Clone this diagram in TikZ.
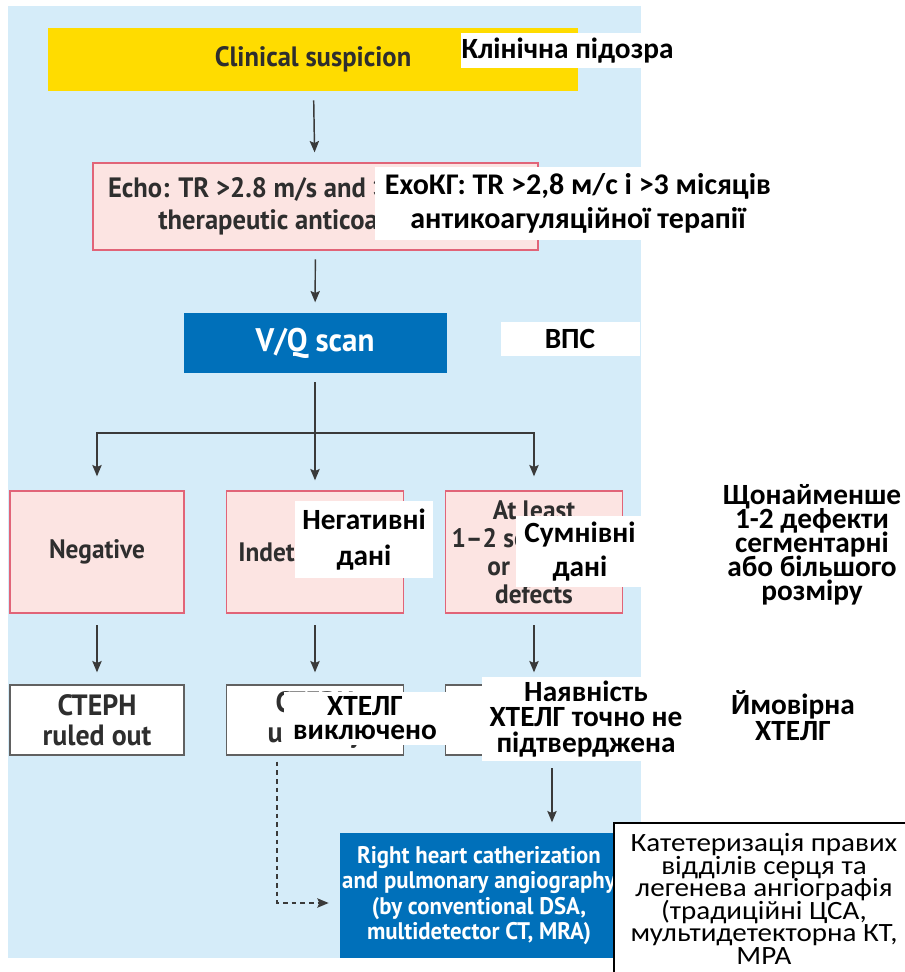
\documentclass[tikz,border=0pt]{standalone}
\usepackage{fontspec}
\setmainfont{Carlito}
\newfontfamily\engfont[FakeStretch=0.95]{PT Sans}
\newfontfamily\uafont{Carlito}
\newfontfamily\uawide[FakeStretch=1.1]{Carlito}
\newcommand\tightlines{\lineskiplimit=-40pt\relax}
\usetikzlibrary{arrows.meta}

\definecolor{bgblue}{HTML}{D5ECF9}
\definecolor{ylw}{HTML}{FFDC00}
\definecolor{pinkfill}{HTML}{FCE4E2}
\definecolor{pinkedge}{HTML}{E16478}
\definecolor{boxblue}{HTML}{0070BA}
\definecolor{inkgray}{HTML}{2E2E2E}
\definecolor{linegray}{HTML}{3A3A3A}

\tikzset{
  sz/.style 2 args={minimum width=#1*0.75pt, minimum height=#2*0.75pt},
  box/.style={inner sep=0pt, outer sep=0pt, align=center},
  yellowbox/.style={box, fill=ylw, text=inkgray},
  pinkbox/.style={box, fill=pinkfill, draw=pinkedge, line width=1.1pt, text=inkgray},
  bluebox/.style={box, fill=boxblue, text=white},
  whitebox/.style={box, fill=white, draw=linegray!80, line width=1.1pt, text=inkgray},
  wlabel/.style={box, fill=white, text=black},
  freelabel/.style={box, text=black},
  arr/.style={draw=linegray, line width=1.1pt, -{Stealth[length=8.5pt,width=7pt,inset=1.5pt]},
              shorten <=7pt, shorten >=8pt},
  dasharr/.style={draw=linegray, line width=1.1pt, dash pattern=on 3.5pt off 3pt,
              -{Stealth[length=8.5pt,width=7pt,inset=1.5pt]}, shorten <=5pt, shorten >=8.5pt},
}

\begin{document}
\begin{tikzpicture}[x=0.75pt,y=-0.75pt]
\useasboundingbox (0,0) rectangle (905,972);
\fill[white] (0,0) rectangle (905,972);
\fill[bgblue] (8,6) rectangle (641,958);

% main flow
\node[yellowbox, sz={530}{63}, font=\engfont\bfseries\fontsize{21}{24}\selectfont] (susp) at (313,59.5) {Clinical suspicion};
\node[pinkbox, sz={445}{87}, font=\engfont\bfseries\fontsize{21}{24}\selectfont] (echo) at (315.5,206.5)
  {Echo: TR >2.8 m/s and >3 months of\\therapeutic anticoagulation};
\node[bluebox, sz={263}{60}, font=\engfont\bfseries\fontsize{24.5}{26}\selectfont] (vq) at (315,343) {V/Q scan};

% V/Q result boxes
\node[pinkbox, sz={174}{122}, font=\engfont\bfseries\fontsize{20}{21}\selectfont] (neg) at (97,552) {Negative};
\node[pinkbox, sz={177}{122}, font=\engfont\bfseries\fontsize{20}{21}\selectfont] (ind) at (315,552) {Indeterminate};
\node[pinkbox, sz={177}{122}, font=\engfont\bfseries\fontsize{20}{21}\selectfont] (atl) at (534,552)
  {At least\\1–2 segmental\\or larger\\defects};

% conclusions
\node[whitebox, sz={174}{70}, font=\engfont\bfseries\fontsize{22}{22.5}\selectfont] (out) at (97,720) {CTEPH\\ruled out};
\node[whitebox, sz={177}{70}, font=\engfont\bfseries\fontsize{22}{22.5}\selectfont] (unl) at (315,720) {CTEPH\\unlikely};
\node[whitebox, sz={177}{70}] (lik) at (534,720) {};

\node[bluebox, sz={278}{125}, font=\engfont\bfseries\fontsize{18}{19.2}\selectfont] (rhc) at (479,895.5)
  {Right heart catherization\\and pulmonary angiography\\(by conventional DSA,\\multidetector CT, MRA)};

% connectors
\coordinate (split) at (315,433);
\coordinate (downx) at (552,0);
\coordinate (dashx) at (277,0);
\coordinate (dashy) at (0,903);
\draw[arr] (susp) -- (echo);
\draw[arr] (echo) -- (vq);
\draw[arr] (vq) -- (ind);
\draw[arr, shorten <=0pt, shorten >=11pt] (split) -| (neg.north);
\draw[arr, shorten <=0pt, shorten >=11pt] (split) -| (atl.north);
\draw[arr, shorten <=9pt, shorten >=9.5pt] (neg) -- (out);
\draw[arr, shorten <=9pt, shorten >=9.5pt] (ind) -- (unl);
\draw[arr, shorten <=9pt, shorten >=9.5pt] (atl) -- (lik);
\draw[arr, shorten <=10pt, shorten >=8pt] (lik.south -| downx) -- (rhc.north -| downx);
\draw[dasharr] (unl.south -| dashx) |- (rhc.west |- dashy);

% Ukrainian captions
\node[wlabel, sz={213}{35}, font=\uafont\bfseries\fontsize{22}{24}\selectfont] (lb1) at (567.5,50.5) {Клінічна підозра};
\node[wlabel, sz={407}{73}, font=\uafont\bfseries\fontsize{22.5}{25.5}\selectfont] (lb2) at (578,203.5)
  {ЕхоКГ: TR >2,8 м/с і >3 місяців\\антикоагуляційної терапії};
\node[wlabel, sz={139}{34}, font=\uafont\bfseries\fontsize{22}{24}\selectfont] (lb3) at (570,339) {ВПС};
\node[wlabel, sz={138}{77}, font=\uafont\bfseries\fontsize{22}{27}\selectfont] (lb4) at (364,539.5) {Негативні\\дані};
\node[wlabel, sz={128}{71}, font=\uafont\bfseries\fontsize{22}{26}\selectfont] (lb5) at (580,551.5) {Сумнівні\\дані};
\node[freelabel, font=\uafont\bfseries\fontsize{22}{18}\selectfont\tightlines] (lb6) at (812,545)
  {Щонайменше\\1-2 дефекти\\сегментарні\\або більшого\\розміру};
\node[wlabel, sz={163}{53}, font=\uafont\bfseries\fontsize{22}{18}\selectfont\tightlines] (lb7) at (365,718.5) {ХТЕЛГ\\виключено};
\node[wlabel, sz={208}{84}, font=\uafont\bfseries\fontsize{22}{19}\selectfont\tightlines] (lb8) at (586,719)
  {Наявність\\ХТЕЛГ точно не\\підтверджена};
\node[freelabel, font=\uafont\bfseries\fontsize{22}{19}\selectfont\tightlines] (lb9) at (793,715.5) {Ймовірна\\ХТЕЛГ};
\node[box, fill=white, draw=black, line width=1pt, sz={300}{152},
      font=\uawide\fontsize{19.8}{16.9}\selectfont\tightlines] (lb10) at (764,899)
  {Катетеризація правих\\відділів серця та\\легенева ангіографія\\(традиційні ЦСА,\\мультидетекторна КТ,\\МРА};
\end{tikzpicture}
\end{document}
